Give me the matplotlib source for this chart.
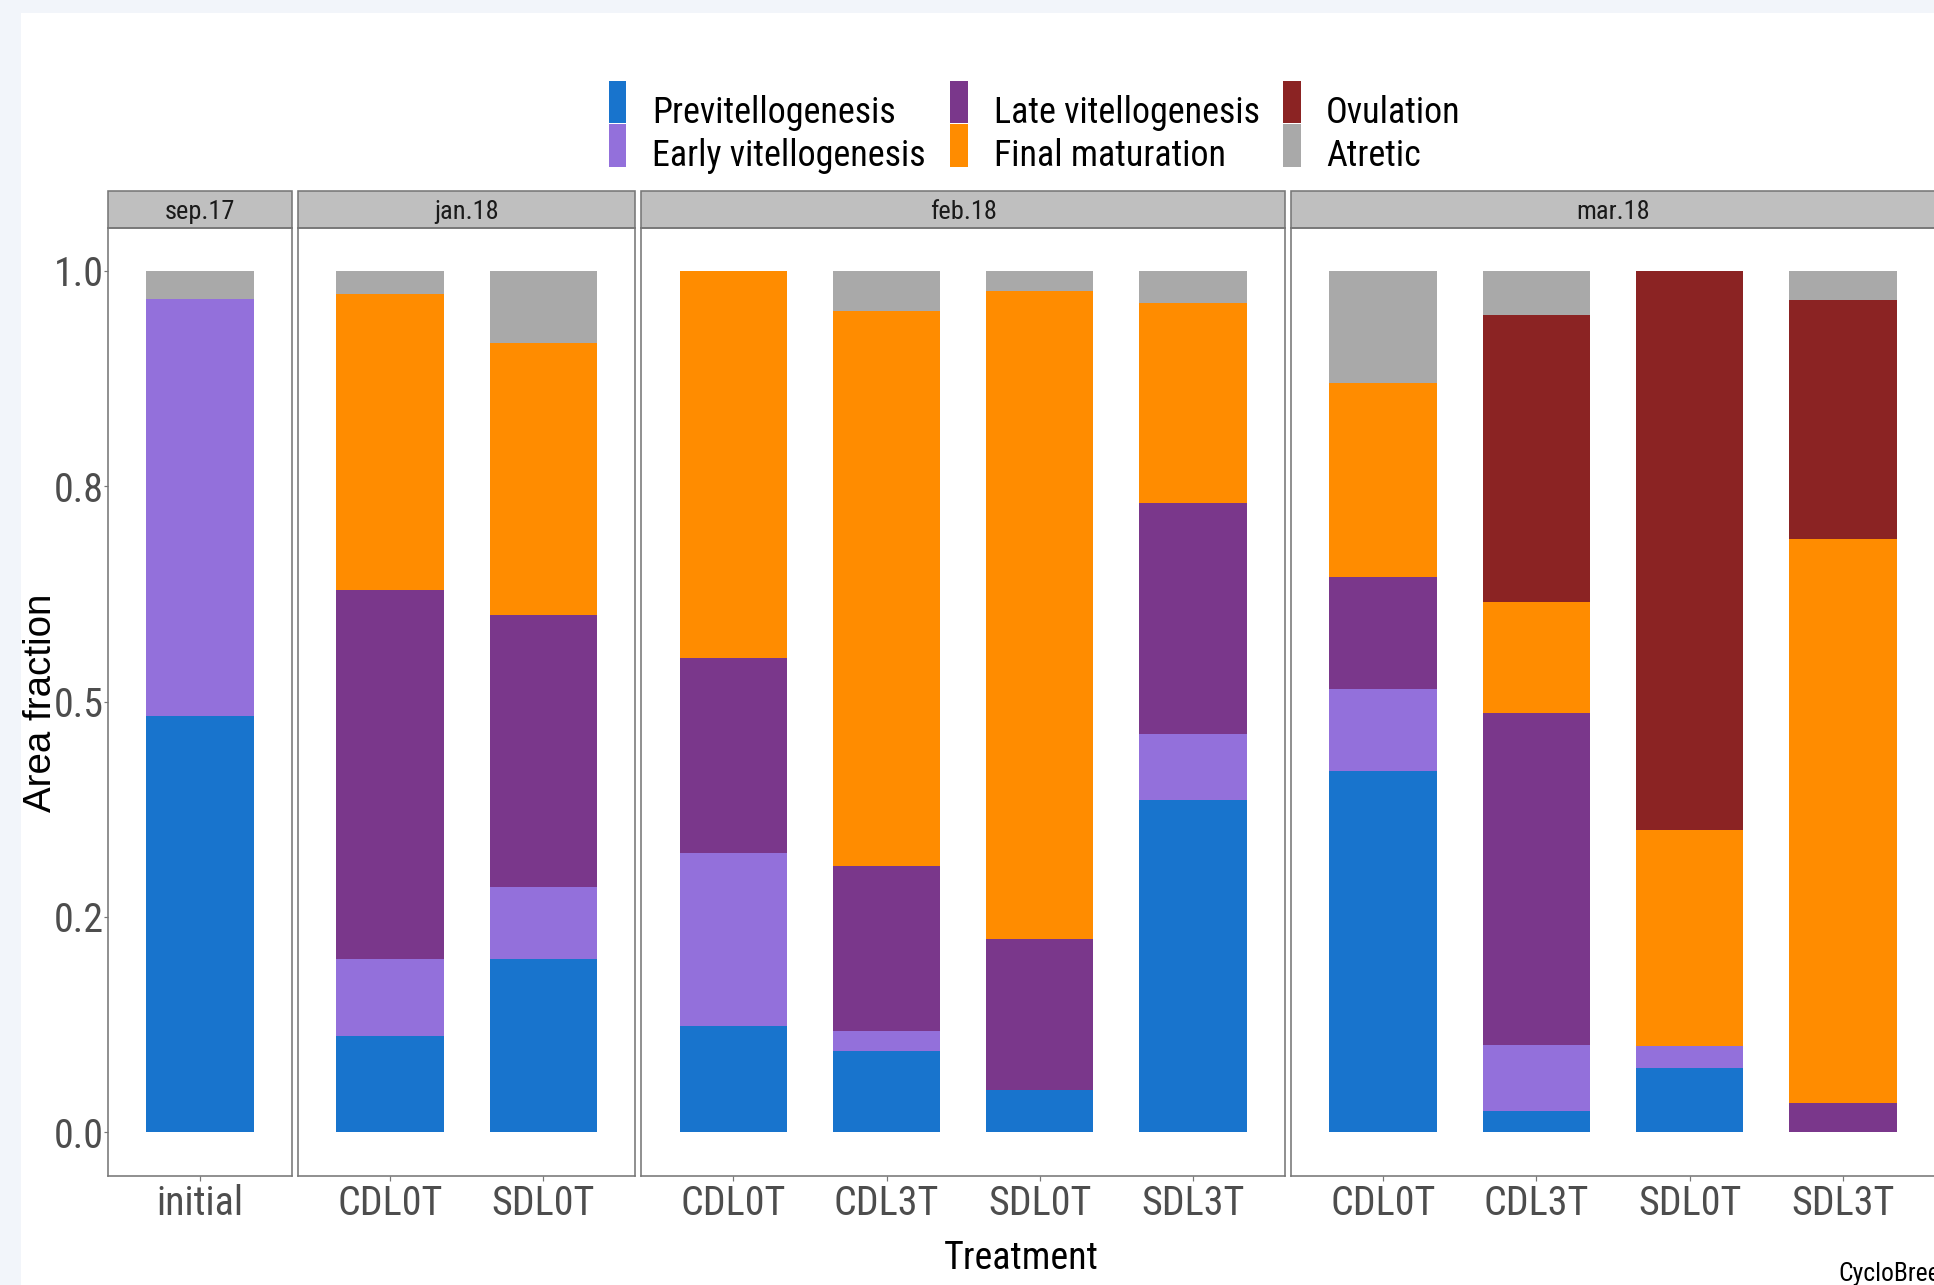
import numpy as np
import matplotlib
matplotlib.use('Agg')
import matplotlib.pyplot as plt
from matplotlib.patches import Rectangle
from matplotlib import font_manager as fm

# ---------------- data ----------------
groups = ['sep.17', 'jan.18', 'feb.18', 'mar.18']
group_treatments = [['initial'],
                    ['CDL0T', 'SDL0T'],
                    ['CDL0T', 'CDL3T', 'SDL0T', 'SDL3T'],
                    ['CDL0T', 'CDL3T', 'SDL0T', 'SDL3T']]
stages = ['Previtellogenesis', 'Early vitellogenesis', 'Late vitellogenesis',
          'Final maturation', 'Ovulation', 'Atretic']
stage_colors = ['#1874CD', '#9370DB', '#7A378B', '#FF8C00', '#8B2323', '#A9A9A9']

# one value per bar, bars in facet order (sep.17 | jan.18 | feb.18 | mar.18)
previtellogenesis = [0.483, 0.112, 0.201, 0.124, 0.095, 0.049, 0.386, 0.419, 0.025, 0.075, 0.000]
early_vitello     = [0.484, 0.089, 0.084, 0.200, 0.023, 0.000, 0.076, 0.096, 0.077, 0.025, 0.000]
late_vitello      = [0.000, 0.428, 0.315, 0.226, 0.191, 0.175, 0.268, 0.130, 0.385, 0.000, 0.034]
final_maturation  = [0.000, 0.344, 0.316, 0.450, 0.644, 0.752, 0.232, 0.225, 0.128, 0.251, 0.655]
ovulation         = [0.000, 0.000, 0.000, 0.000, 0.000, 0.000, 0.000, 0.000, 0.334, 0.649, 0.277]
atretic           = [0.033, 0.027, 0.084, 0.000, 0.047, 0.024, 0.038, 0.130, 0.051, 0.000, 0.034]
series = [previtellogenesis, early_vitello, late_vitello, final_maturation, ovulation, atretic]

y_ticks = [0.0, 0.25, 0.5, 0.75, 1.0]
y_ticklabels = ['0.0', '0.2', '0.5', '0.8', '1.0']

# ---------------- fonts ----------------
names = {f.name for f in fm.fontManager.ttflist}
NARROW = None
for cand in ['Liberation Sans Narrow', 'Arial Narrow', 'Roboto Condensed',
             'Open Sans Condensed', 'Noto Sans Condensed']:
    if cand in names:
        NARROW = cand
        break
if NARROW is not None:
    big = 40
else:
    NARROW = 'Liberation Sans'
    big = 35
REG = 'Liberation Sans'
plt.rcParams['font.family'] = [NARROW, 'DejaVu Sans']

W, H = 1934, 1285
def pt(px):
    return px * 0.72
def fx(x):
    return x / W
def fy(y):
    return 1 - y / H

fig = plt.figure(figsize=(W / 100, H / 100), dpi=100, facecolor='#f2f5fa')
fig.patches.append(Rectangle((fx(21), 0), 1 - fx(21), fy(13), transform=fig.transFigure,
                             facecolor='white', edgecolor='none', zorder=-10))

unit = 153.3
gap = 6
panel_top, panel_bot = 227.5, 1175.5
panel_h = panel_bot - panel_top
strip_h = 37
border_col = '#777777'

x0 = 108
bar_idx = 0
for gi, (g, treats) in enumerate(zip(groups, group_treatments)):
    n = len(treats)
    w = (n + 0.2) * unit
    ax = fig.add_axes([fx(x0), fy(panel_bot), w / W, panel_h / H])
    ax.set_zorder(1)
    x0 += w + gap
    ax.set_facecolor('white')
    pos = np.arange(1, n + 1)
    bottom = np.zeros(n)
    for s, col in zip(series, stage_colors):
        vals = np.array(s[bar_idx:bar_idx + n])
        ax.bar(pos, vals, 0.7, bottom=bottom, color=col, linewidth=0)
        bottom += vals
    bar_idx += n
    ax.set_xlim(0.4, n + 0.6)
    ax.set_ylim(-0.05, 1.05)
    for sp in ax.spines.values():
        sp.set_color(border_col)
        sp.set_linewidth(pt(1.6))
    ax.set_xticks(pos)
    ax.set_xticklabels(treats)
    ax.tick_params(axis='x', length=pt(4.5), width=pt(1.2), color=border_col,
                   labelsize=pt(big), labelcolor='#4d4d4d', pad=pt(4))
    if gi == 0:
        ax.set_yticks(y_ticks)
        ax.set_yticklabels(y_ticklabels)
        ax.tick_params(axis='y', length=pt(4.5), width=pt(1.2), color=border_col,
                       labelsize=pt(big), labelcolor='#4d4d4d', pad=pt(0))
    else:
        ax.set_yticks([])
    # facet strip
    ax.add_patch(Rectangle((0, 1), 1, strip_h / panel_h, transform=ax.transAxes,
                           clip_on=False, facecolor='#bfbfbf', edgecolor=border_col,
                           linewidth=pt(1.6)))
    ax.text(0.5, 1 + (strip_h / 2 - 3.5) / panel_h, g, transform=ax.transAxes,
            ha='center', va='center', fontsize=pt(big * 0.66), color='#1a1a1a')

# ---------------- legend (manual, ggplot style) ----------------
key_x = [608.7, 950, 1283]
text_x = [651.8, 994.5, 1326]
key_top = [80.7, 124.3]
key_h = 42.5
key_w = 17.5
baseline = [123.3, 166.5]
for i, (lab, col) in enumerate(zip(stages, stage_colors)):
    c, r = i // 2, i % 2
    fig.patches.append(Rectangle((fx(key_x[c]), fy(key_top[r] + key_h)), key_w / W, key_h / H,
                                 transform=fig.transFigure, facecolor=col, edgecolor='none'))
    fig.text(fx(text_x[c]), fy(baseline[r]), lab, ha='left', va='baseline',
             fontsize=pt(big * 0.9), color='black')

# axis titles
fig.text(fx(1021), fy(1269), 'Treatment', ha='center', va='baseline',
         fontsize=pt(big * 0.95), color='black')
fig.text(fx(51), fy(703), 'Area fraction', rotation=90, rotation_mode='anchor',
         ha='center', va='baseline', fontsize=pt(38.5), color='black', family=[REG, 'DejaVu Sans'])
# caption
fig.text(fx(1838), fy(1281), 'CycloBreed', ha='left', va='baseline',
         fontsize=pt(big * 0.64), color='black')

fig.savefig('out.png', dpi=100, facecolor=fig.get_facecolor())
